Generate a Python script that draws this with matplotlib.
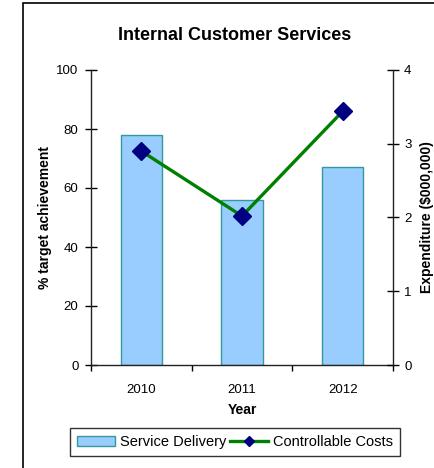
import matplotlib.pyplot as plt
import matplotlib.patches as mpatches
from matplotlib.lines import Line2D

plt.rcParams['font.family'] = ['Liberation Sans', 'DejaVu Sans']

years = ['2010', '2011', '2012']
service_delivery = [78, 56, 67]          # % target achievement
controllable_costs = [2.9, 2.02, 3.44]   # $000,000

bar_face = '#99CCFF'
bar_edge = '#339999'
line_color = '#008000'
marker_color = '#000080'

fig = plt.figure(figsize=(4.34, 4.68), dpi=100)
ax = fig.add_axes([91 / 434, 1 - 365 / 468, 302 / 434, 295 / 468])
ax2 = ax.twinx()

x = list(range(len(years)))
ax.bar(x, service_delivery, width=0.41, color=bar_face, edgecolor=bar_edge,
       linewidth=1.0, zorder=2)
ax2.plot(x, controllable_costs, color=line_color, linewidth=2.4,
         marker='D', markersize=9, markerfacecolor=marker_color,
         markeredgecolor=marker_color, zorder=3)

ax.set_xlim(-0.5, len(years) - 0.5)
ax.set_ylim(0, 100)
ax2.set_ylim(0, 4)

# category boundaries carry the tick marks, labels sit in the middle
ax.set_xticks([i - 0.5 for i in range(len(years) + 1)])
ax.set_xticklabels([])
ax.set_xticks(x, minor=True)
ax.set_xticklabels(years, minor=True, fontsize=9.5)
ax.tick_params(axis='x', which='major', direction='out', length=4, width=1)
ax.tick_params(axis='x', which='minor', length=0, pad=14)

ax.set_yticks(range(0, 101, 20))
ax.tick_params(axis='y', direction='inout', length=8, width=1, labelsize=9.5, pad=5)
ax2.set_yticks(range(0, 5))
ax2.tick_params(axis='y', direction='inout', length=8, width=1, labelsize=9.5, pad=4)

for a in (ax, ax2):
    a.spines['top'].set_visible(False)
    for s in a.spines.values():
        s.set_linewidth(1.0)
        s.set_color('#222222')
ax.spines['right'].set_visible(False)
ax2.spines['left'].set_visible(False)
ax2.spines['bottom'].set_visible(False)

ax.set_xlabel('Year', fontsize=10, fontweight='bold', labelpad=5)
ax.set_ylabel('% target achievement', fontsize=10, fontweight='bold', labelpad=3)
ax2.set_ylabel('Expenditure ($000,000)', fontsize=10, fontweight='bold', labelpad=6)

fig.text(235 / 434, 1 - 35 / 468, 'Internal Customer Services',
         ha='center', va='center', fontsize=13, fontweight='bold')

# chart area border
fig.patches.append(mpatches.Rectangle((23 / 434, -0.05), 1.0, 1 - 3 / 468 + 0.05,
                                      transform=fig.transFigure, fill=False,
                                      edgecolor='black', linewidth=1.2))

handles = [
    mpatches.Patch(facecolor=bar_face, edgecolor=bar_edge, label='Service Delivery'),
    Line2D([], [], color=line_color, linewidth=2.4, marker='D', markersize=5,
           markerfacecolor=marker_color, markeredgecolor=marker_color,
           label='Controllable Costs'),
]
leg = fig.legend(handles=handles, loc='center', bbox_to_anchor=(235 / 434, 1 - 442 / 468),
                 ncol=2, fontsize=10.5, frameon=True, fancybox=False, edgecolor='black',
                 handlelength=2.6, handletextpad=0.3, columnspacing=0.3,
                 borderpad=0.5)
leg.get_frame().set_linewidth(1.0)

fig.savefig('out.png', dpi=100)
